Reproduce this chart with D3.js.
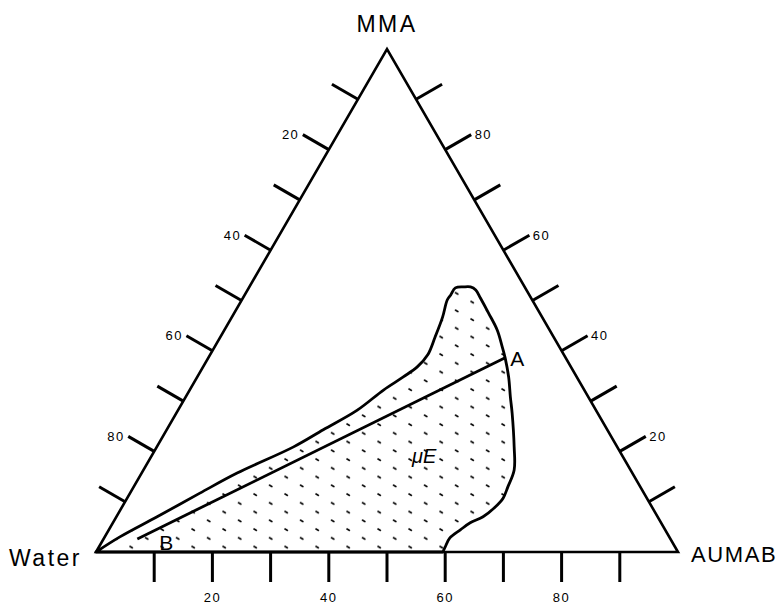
<!DOCTYPE html>
<html>

<head>
    <meta charset="utf-8">
    <title>Ternary phase diagram - Water / MMA / AUMAB</title>
    <script src="https://d3js.org/d3.v7.min.js" charset="utf-8"></script>
</head>

<body>
    <style>
        html,
        body {
            margin: 0;
            padding: 0;
            background: #ffffff;
        }

        svg text {
            font-family: "Liberation Sans", Arial, Helvetica, sans-serif;
            fill: #000;
        }

        .edge {
            fill: none;
            stroke: #000;
            stroke-width: 2.6px;
            stroke-linejoin: miter;
        }

        .tick {
            stroke: #000;
            stroke-width: 3px;
        }

        .region {
            stroke: #000;
            stroke-width: 2.8px;
            stroke-linejoin: round;
        }

        .tie {
            stroke: #000;
            stroke-width: 2.8px;
        }
    </style>
    <script>
      // Composition values, in percent: [AUMAB, MMA]
      // (Water = 100 - AUMAB - MMA)
      var vertexNames = ["Water", "AUMAB", "MMA"];
      var tickValues = [10, 20, 30, 40, 50, 60, 70, 80, 90];
      var tickLabels = [20, 40, 60, 80];

      // boundary of the microemulsion region, from the Water corner round to the base
      var boundaryAumab = [0, 2.6, 7.0, 12.0, 16.4, 23.5, 26.9, 30.8, 33.3, 35.4, 36.8, 37.4,
                           36.9, 36.2, 35.3, 35.4, 35.5, 36.8, 38.0, 39.2, 40.8, 43.7, 46.9,
                           49.4, 51.0, 53.5, 55.8, 57.7, 61.4, 63.7, 64.3, 64.6, 64.1, 63.0,
                           61.4, 60.4, 59.4, 59.5, 59.6];
      var boundaryMma   = [0, 3.0, 7.0, 11.7, 15.7, 20.9, 24.3, 28.2, 32.2, 34.8, 36.8, 39.2,
                           42.7, 46.7, 50.1, 51.1, 52.5, 52.7, 52.7, 52.1, 50.5, 47.5, 44.1,
                           40.8, 38.6, 34.8, 30.8, 27.6, 20.9, 16.3, 12.9, 10.7, 8.9, 7.0,
                           5.8, 4.4, 2.8, 1.0, 0];

      // dilution line A - B
      var lineNames = ["A", "B"];
      var lineAumab = [51.0, 5.8];
      var lineMma = [38.6, 2.6];

      // region label
      var regionLabel = "μE";
      var regionLabelAt = [45.5, 17.6];

      var width = 782,
          height = 604;

      var svg = d3.select("body")
                  .append("svg")
                  .attr("width", width)
                  .attr("height", height);

      // AUMAB runs along the base, MMA goes up to the apex
      var x = d3.scaleLinear().domain([0, 100]).range([96, 678]);
      var y = d3.scaleLinear().domain([0, 100]).range([552, 49]);

      function project(a, m) {
        return [x(a + m / 2), y(m)];
      }

      var corners = [project(0, 0), project(100, 0), project(0, 100)];

      // dotted fill for the one phase region (small dashes on a hex grid)
      var defs = svg.append("defs");
      var pattern = defs.append("pattern")
                        .attr("id", "dots")
                        .attr("patternUnits", "userSpaceOnUse")
                        .attr("x", 3)
                        .attr("y", 1)
                        .attr("width", 31)
                        .attr("height", 17.5);
      [[3, 3], [18.5, 11.75]].forEach(function(p) {
        pattern.append("line")
               .attr("x1", p[0]).attr("y1", p[1])
               .attr("x2", p[0] + 2.4).attr("y2", p[1] + 1.3)
               .attr("stroke", "#000")
               .attr("stroke-width", 1.7)
               .attr("stroke-linecap", "round");
      });

      // region
      var boundary = boundaryAumab.map(function(a, i) {
        return project(a, boundaryMma[i]);
      });
      var lineGen = d3.line().curve(d3.curveCatmullRom.alpha(0.5));
      svg.append("path")
         .attr("class", "region")
         .attr("fill", "url(#dots)")
         .attr("d", lineGen(boundary) + "Z");

      // A - B line
      var ends = lineAumab.map(function(a, i) { return project(a, lineMma[i]); });
      svg.append("line")
         .attr("class", "tie")
         .attr("x1", ends[0][0]).attr("y1", ends[0][1])
         .attr("x2", ends[1][0]).attr("y2", ends[1][1]);

      svg.append("text")
         .attr("x", ends[0][0] + 5)
         .attr("y", ends[0][1] + 8)
         .attr("font-size", 21)
         .text(lineNames[0]);

      svg.append("text")
         .attr("x", ends[1][0] + 22)
         .attr("y", ends[1][1] + 11)
         .attr("font-size", 21)
         .text(lineNames[1]);

      var lab = project(regionLabelAt[0], regionLabelAt[1]);
      svg.append("text")
         .attr("x", lab[0])
         .attr("y", lab[1])
         .attr("font-size", 20)
         .attr("font-style", "italic")
         .text(regionLabel);

      // triangle
      svg.append("path")
         .attr("class", "edge")
         .attr("d", d3.line()(corners) + "Z");

      // ticks: one axis per side, perpendicular and outward
      // bottom = AUMAB %, right = MMA %, left = Water %
      var tickLen = 30;
      var axes = [
        { pos: function(v) { return project(v, 0); },       n: [0, 1],            anchor: "middle" },
        { pos: function(v) { return project(100 - v, v); }, n: [0.866, -0.5],     anchor: "start" },
        { pos: function(v) { return project(0, 100 - v); }, n: [-0.866, -0.5],    anchor: "end" }
      ];

      axes.forEach(function(ax, k) {
        var g = svg.append("g").attr("class", "axis-" + k);
        g.selectAll("line")
         .data(tickValues)
         .enter()
         .append("line")
         .attr("class", "tick")
         .attr("x1", function(d) { return ax.pos(d)[0]; })
         .attr("y1", function(d) { return ax.pos(d)[1]; })
         .attr("x2", function(d) { return ax.pos(d)[0] + ax.n[0] * tickLen; })
         .attr("y2", function(d) { return ax.pos(d)[1] + ax.n[1] * tickLen; });

        g.selectAll("text")
         .data(tickLabels)
         .enter()
         .append("text")
         .attr("font-size", 13)
         .attr("letter-spacing", 1.5)
         .attr("text-anchor", ax.anchor)
         .attr("x", function(d) {
           var p = ax.pos(d);
           if (k == 0) return p[0];
           return p[0] + ax.n[0] * (tickLen + 4);
         })
         .attr("y", function(d) {
           var p = ax.pos(d);
           if (k == 0) return p[1] + tickLen + 20;
           return p[1] + ax.n[1] * tickLen;
         })
         .attr("dy", k == 0 ? 0 : "0.35em")
         .text(function(d) { return d; });
      });

      // corner names
      svg.append("text")
         .attr("x", corners[0][0] - 87)
         .attr("y", corners[0][1] + 14)
         .attr("font-size", 23)
         .attr("letter-spacing", 2.5)
         .text(vertexNames[0]);

      svg.append("text")
         .attr("x", corners[1][0] + 13)
         .attr("y", corners[1][1] + 10)
         .attr("font-size", 22)
         .attr("letter-spacing", 1.6)
         .text(vertexNames[1]);

      svg.append("text")
         .attr("x", corners[2][0])
         .attr("y", corners[2][1] - 17)
         .attr("font-size", 23)
         .attr("letter-spacing", 2.5)
         .attr("text-anchor", "middle")
         .text(vertexNames[2]);
    </script>

</body>

</html>
